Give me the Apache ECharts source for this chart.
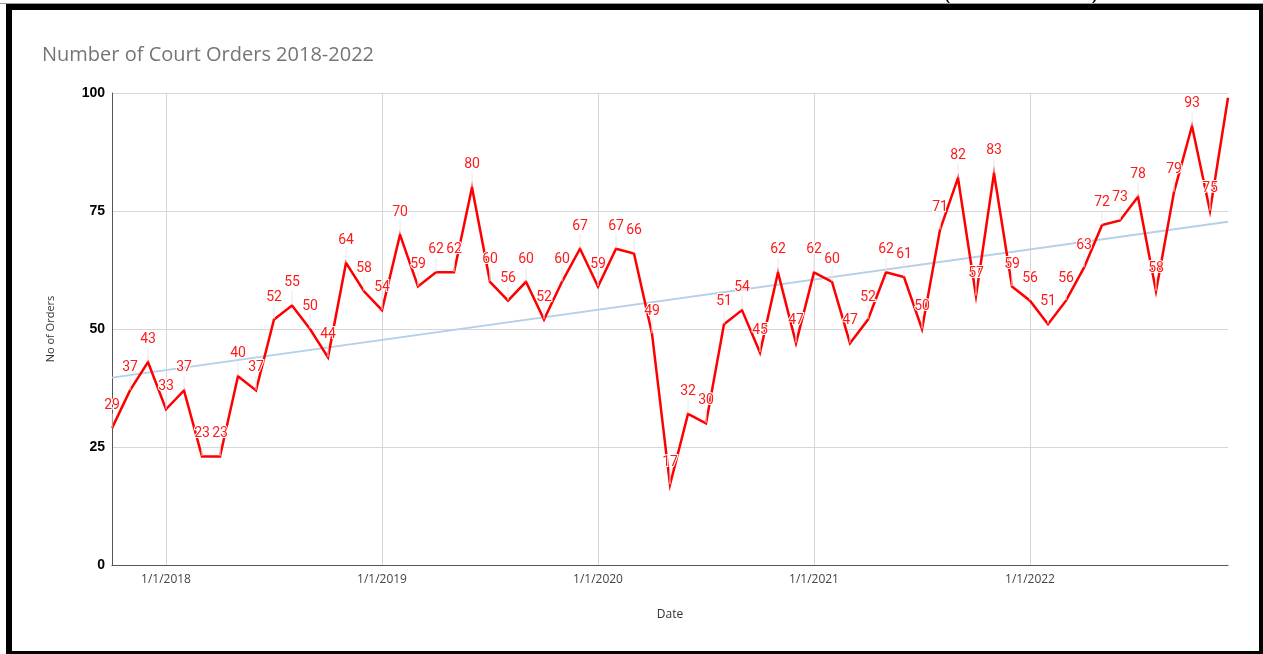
<!DOCTYPE html>
<html>
<head>
<meta charset="utf-8">
<script src="https://cdn.jsdelivr.net/npm/echarts@6/dist/echarts.min.js"></script>
<style>
  html, body { margin: 0; padding: 0; background: #ffffff; }
  #chart { width: 1263px; height: 654px; }
</style>
</head>
<body>
<div id="chart"></div>
<script>
// Monthly dates, Oct 2017 to Dec 2022
const months = [
  '10/1/2017', '11/1/2017', '12/1/2017',
  '1/1/2018', '2/1/2018', '3/1/2018', '4/1/2018', '5/1/2018', '6/1/2018',
  '7/1/2018', '8/1/2018', '9/1/2018', '10/1/2018', '11/1/2018', '12/1/2018',
  '1/1/2019', '2/1/2019', '3/1/2019', '4/1/2019', '5/1/2019', '6/1/2019',
  '7/1/2019', '8/1/2019', '9/1/2019', '10/1/2019', '11/1/2019', '12/1/2019',
  '1/1/2020', '2/1/2020', '3/1/2020', '4/1/2020', '5/1/2020', '6/1/2020',
  '7/1/2020', '8/1/2020', '9/1/2020', '10/1/2020', '11/1/2020', '12/1/2020',
  '1/1/2021', '2/1/2021', '3/1/2021', '4/1/2021', '5/1/2021', '6/1/2021',
  '7/1/2021', '8/1/2021', '9/1/2021', '10/1/2021', '11/1/2021', '12/1/2021',
  '1/1/2022', '2/1/2022', '3/1/2022', '4/1/2022', '5/1/2022', '6/1/2022',
  '7/1/2022', '8/1/2022', '9/1/2022', '10/1/2022', '11/1/2022', '12/1/2022'
];

// Number of court orders per month
const orders = [
  29, 37, 43,
  33, 37, 23, 23, 40, 37, 52, 55, 50, 44, 64, 58,
  54, 70, 59, 62, 62, 80, 60, 56, 60, 52, 60, 67,
  59, 67, 66, 49, 17, 32, 30, 51, 54, 45, 62, 47,
  62, 60, 47, 52, 62, 61, 50, 71, 82, 57, 83, 59,
  56, 51, 56, 63, 72, 73, 78, 58, 79, 93, 75, 99
];

// Linear trendline: values at the first and last month
const trendEnds = [39.7, 72.7];

// Y axis ticks
const yTicks = [0, 25, 50, 75, 100];

const trendData = months.map((m, i) =>
  i === 0 ? trendEnds[0] : (i === months.length - 1 ? trendEnds[1] : null));

// Last point sits at the top edge and carries no label
const orderData = orders.map((v, i) =>
  i === orders.length - 1 ? { value: v, label: { show: false }, labelLine: { show: false } } : v);

const isYearStart = (idx, val) => String(val).indexOf('1/1/') === 0;

const chart = echarts.init(document.getElementById('chart'), null, { renderer: 'canvas' });

chart.setOption({
  backgroundColor: '#ffffff',
  animation: false,
  title: {
    text: 'Number of Court Orders 2018-2022',
    left: 37,
    top: 40,
    textStyle: {
      fontFamily: 'Open Sans',
      fontSize: 20,
      fontWeight: 'normal',
      color: '#757575'
    }
  },
  grid: { left: 112, right: 35, top: 93, bottom: 89, containLabel: false },
  xAxis: {
    type: 'category',
    data: months,
    boundaryGap: false,
    name: 'Date',
    nameLocation: 'middle',
    nameGap: 44,
    nameTextStyle: { fontFamily: 'Open Sans', fontSize: 12, color: '#333333' },
    axisLine: { show: true, lineStyle: { color: '#555555', width: 1 } },
    axisTick: { show: false },
    axisLabel: {
      interval: isYearStart,
      margin: 9,
      fontFamily: 'Open Sans',
      fontSize: 12,
      color: '#444444'
    },
    splitLine: {
      show: true,
      interval: isYearStart,
      lineStyle: { color: '#d6d6d6', width: 1 }
    }
  },
  yAxis: {
    type: 'value',
    min: yTicks[0],
    max: yTicks[yTicks.length - 1],
    interval: 25,
    name: 'No of Orders',
    nameLocation: 'middle',
    nameGap: 56,
    nameTextStyle: { fontFamily: 'Open Sans', fontSize: 11, color: '#333333' },
    axisLine: { show: true, lineStyle: { color: '#555555', width: 1 } },
    axisTick: { show: false },
    axisLabel: {
      margin: 7,
      fontFamily: 'Liberation Sans',
      fontSize: 14,
      fontWeight: 'bold',
      color: '#000000'
    },
    splitLine: { show: true, lineStyle: { color: '#d6d6d6', width: 1 } }
  },
  series: [
    {
      name: 'Trendline',
      type: 'line',
      data: trendData,
      connectNulls: true,
      symbol: 'none',
      silent: true,
      z: 1,
      lineStyle: { color: '#b4d0ea', width: 2 }
    },
    {
      name: 'No of Orders',
      type: 'line',
      data: orderData,
      symbol: 'circle',
      symbolSize: 1,
      showSymbol: true,
      showAllSymbol: true,
      itemStyle: { color: 'rgba(255,0,0,0)', borderWidth: 0 },
      z: 3,
      lineStyle: { color: '#ff0000', width: 2.5, join: 'miter' },
      label: {
        show: true,
        position: 'top',
        distance: 4,
        opacity: 1,
        fontFamily: 'Roboto',
        fontSize: 14,
        color: '#ff1a1a',
        textBorderColor: '#ffffff',
        textBorderWidth: 2
      },
      labelLayout: { dy: -11 },
      labelLine: { show: true, lineStyle: { color: '#e8e8e8', width: 1 } }
    }
  ],
  graphic: [
    // picture frame
    { type: 'rect', shape: { x: 6, y: 4, width: 1257, height: 6 }, style: { fill: '#000000' }, silent: true, z: 100 },
    { type: 'rect', shape: { x: 6, y: 4, width: 6, height: 650 }, style: { fill: '#000000' }, silent: true, z: 100 },
    { type: 'rect', shape: { x: 1259, y: 4, width: 4, height: 650 }, style: { fill: '#000000' }, silent: true, z: 100 },
    { type: 'rect', shape: { x: 6, y: 651, width: 1257, height: 3 }, style: { fill: '#000000' }, silent: true, z: 100 },
    { type: 'rect', shape: { x: 0, y: 3, width: 1263, height: 1 }, style: { fill: '#9a9a9a' }, silent: true, z: 99 },
    // tails of the bracketed caption above the frame
    { type: 'text', x: 944, y: -18, style: { text: '(', fontFamily: 'Liberation Serif', fontSize: 24, fill: '#000000' }, silent: true, z: 98 },
    { type: 'text', x: 1090, y: -18, style: { text: ')', fontFamily: 'Liberation Serif', fontSize: 24, fill: '#000000' }, silent: true, z: 98 }
  ]
});
</script>
</body>
</html>
